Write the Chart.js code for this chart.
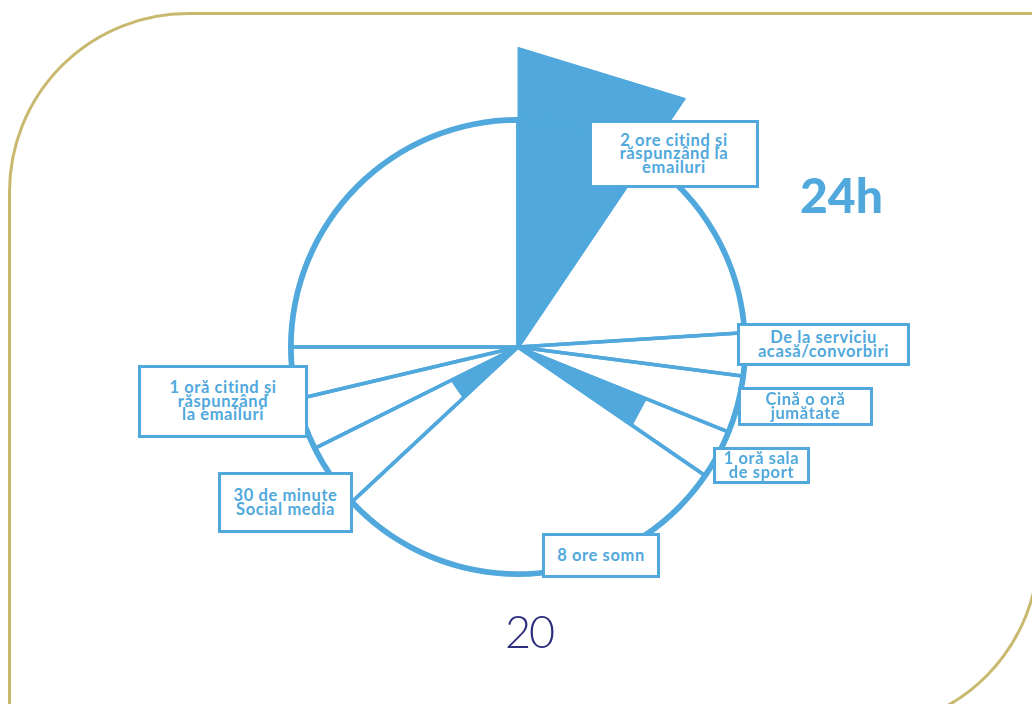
<!DOCTYPE html>
<html>
<head>
<meta charset="utf-8">
<script src="https://cdn.jsdelivr.net/npm/chart.js@4.4.0/dist/chart.umd.min.js"></script>
<style>
  html, body { margin: 0; padding: 0; background: #fff; }
  body { width: 1032px; height: 704px; position: relative; overflow: hidden; font-family: Lato, 'Open Sans', sans-serif; }
  .frame {
    position: absolute; left: 8px; top: 12px; width: 1032px; height: 718px;
    box-sizing: border-box; border: 3px solid #c8b96e;
    border-top-left-radius: 180px; border-bottom-right-radius: 180px;
  }
  canvas { position: absolute; left: 208px; top: 37px; }
  .box {
    position: absolute; box-sizing: border-box; background: #fff;
    border: 3px solid #50a8dc; color: #50a8dc;
    font-weight: 700; font-size: 16.5px; line-height: 13.5px; letter-spacing: 0.6px;
    display: flex; align-items: center; justify-content: center;
    text-align: center; white-space: pre-line;
  }
  .big { position: absolute; left: 800px; top: 166px; font-size: 48px; font-weight: 900; color: #50a8dc; }
  .page { position: absolute; left: 505px; top: 604px; font-size: 45px; font-weight: 300; letter-spacing: -2px; color: #2e2c7c; }
</style>
</head>
<body>
<div class="frame"></div>
<canvas id="fills" width="620" height="620"></canvas>
<canvas id="outline" width="620" height="620"></canvas>
<div class="big">24h</div>
<div class="page">20</div>
<script>
// slices clockwise from 12 o'clock
const categories = [
  '2 ore citind și\nrăspunzând la\nemailuri',
  '',
  'De la serviciu\nacasă/convorbiri',
  'Cină o oră\njumătate',
  '1 oră sala\nde sport',
  '8 ore somn',
  '30 de minute\nSocial media',
  '1 oră citind și\nrăspunzând\nla emailuri',
  '',
  ''
];
const sliceDegrees = [34, 52.4, 11, 14.6, 12.5, 102.5, 16.5, 13.2, 13.3, 90];
// how far each slice is shaded, as a share of the circle radius
const shadeReach = [1.32, 0, 0, 0, 0.61, 0, 0.33, 0, 0, 0];

const BLUE = '#50a8dc';
const circleR = 227;
const half = 310; // half the canvas, px

// label boxes: [slice index, left, top, width, height]
const boxes = [
  [0, 589, 120, 170, 68],
  [2, 737, 323, 173, 43],
  [3, 738, 387, 135, 39],
  [4, 713, 447, 97, 37],
  [5, 542, 533, 118, 45],
  [7, 138, 365, 170, 73],
  [6, 218, 472, 135, 61]
];

// shaded wedges: straight-edged triangles from the centre, on a square x/y grid
// where one unit is the circle radius
const ext = half / circleR;
const fillSets = [];
let start = 0;
sliceDegrees.forEach((deg, i) => {
  const r = shadeReach[i];
  if (r > 0) {
    const a0 = start * Math.PI / 180;
    const a1 = (start + deg) * Math.PI / 180;
    fillSets.push({
      data: [
        { x: 0, y: 0 },
        { x: r * Math.sin(a0), y: r * Math.cos(a0) },
        { x: r * Math.sin(a1), y: r * Math.cos(a1) },
        { x: 0, y: 0 }
      ],
      showLine: true,
      fill: 'shape',
      backgroundColor: BLUE,
      borderColor: BLUE,
      borderWidth: 1,
      pointRadius: 0,
      tension: 0
    });
  }
  start += deg;
});
new Chart(document.getElementById('fills'), {
  type: 'scatter',
  data: { datasets: fillSets },
  options: {
    responsive: false,
    animation: false,
    events: [],
    layout: { padding: 0 },
    scales: {
      x: { type: 'linear', min: -ext, max: ext, display: false },
      y: { type: 'linear', min: -ext, max: ext, display: false }
    },
    plugins: { legend: { display: false }, tooltip: { enabled: false } }
  }
});

// outline: thick rim plus the slice edges
new Chart(document.getElementById('outline'), {
  type: 'pie',
  data: {
    labels: categories,
    datasets: [
      { data: [360], weight: 4, backgroundColor: BLUE, borderWidth: 0, hoverOffset: 0 },
      { data: sliceDegrees, weight: 226, backgroundColor: 'rgba(0,0,0,0)', borderColor: BLUE, borderWidth: 3.5, hoverOffset: 0 }
    ]
  },
  options: {
    responsive: false,
    animation: false,
    events: [],
    radius: circleR + 3,
    cutout: 0,
    plugins: { legend: { display: false }, tooltip: { enabled: false } }
  }
});

boxes.forEach(([i, x, y, w, h]) => {
  const d = document.createElement('div');
  d.className = 'box';
  d.style.left = x + 'px';
  d.style.top = y + 'px';
  d.style.width = w + 'px';
  d.style.height = h + 'px';
  d.textContent = categories[i];
  document.body.appendChild(d);
});
</script>
</body>
</html>
